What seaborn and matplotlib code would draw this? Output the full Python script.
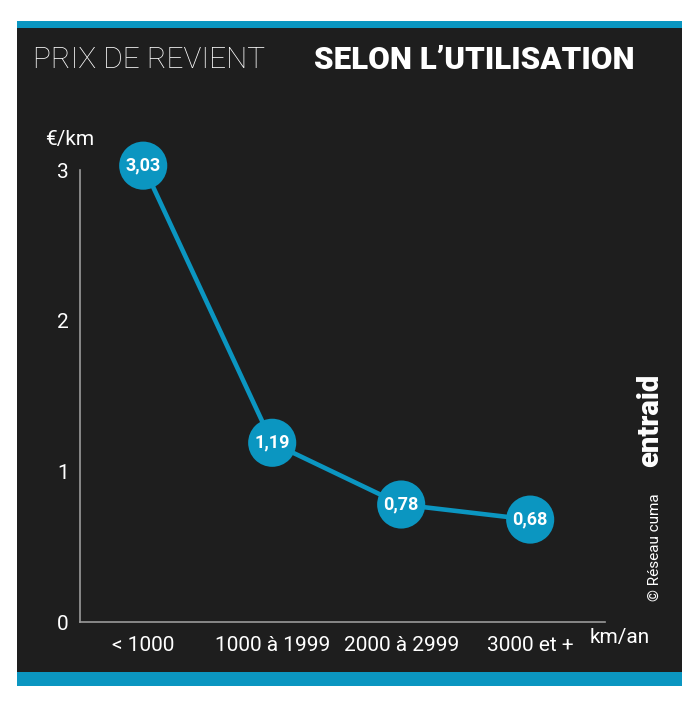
import matplotlib
matplotlib.use("Agg")
import matplotlib.pyplot as plt
from matplotlib.patches import Rectangle
import seaborn as sns
import pandas as pd
from matplotlib import font_manager

categories = ["< 1000", "1000 à 1999", "2000 à 2999", "3000 et +"]
values = [3.03, 1.19, 0.78, 0.68]
value_labels = ["3,03", "1,19", "0,78", "0,68"]
y_ticks = [0, 1, 2, 3]

names = {f.name for f in font_manager.fontManager.ttflist}
narrow = "Liberation Sans Narrow" if "Liberation Sans Narrow" in names else "Roboto"

sns.set_theme(style="white")
plt.rcParams['font.family'] = [narrow, 'DejaVu Sans']

BLUE = "#0b96c1"
DARK = "#1e1e1e"

fig = plt.figure(figsize=(7, 7.1), dpi=100)
fig.patch.set_facecolor("white")
# dark panel and blue bands
fig.add_artist(Rectangle((17/700, 1-673/710), 665/700, 646/710, transform=fig.transFigure, facecolor=DARK, edgecolor="none", zorder=0))
fig.add_artist(Rectangle((17/700, 1-28/710), 665/700, 7/710, transform=fig.transFigure, facecolor=BLUE, edgecolor="none", zorder=0))
fig.add_artist(Rectangle((17/700, 1-686/710), 665/700, 14/710, transform=fig.transFigure, facecolor=BLUE, edgecolor="none", zorder=0))

ax = fig.add_axes([80/700, 1-622/710, 525/700, 497/710])
ax.set_facecolor("none")
df = pd.DataFrame({"cat": categories, "val": values, "pos": range(len(categories))})
sns.lineplot(data=df, x="pos", y="val", ax=ax, color=BLUE, linewidth=3.3, zorder=2)
sns.scatterplot(data=df, x="pos", y="val", ax=ax, color=BLUE, s=1200, edgecolor="none", zorder=3)
for i, (v, lab) in enumerate(zip(values, value_labels)):
    ax.text(i, v, lab, ha="center", va="center", color="white", fontsize=13, fontweight="bold", zorder=4)

ax.set_xlim(-0.49, 3.58)
ax.set_ylim(0, 3.3)
ax.set_xticks(range(len(categories)))
ax.set_xticklabels(categories)
ax.set_yticks(y_ticks)
ax.set_yticklabels([str(t) for t in y_ticks])
ax.tick_params(axis="both", colors="white", labelsize=15, length=0)
ax.tick_params(axis="x", pad=10)
ax.tick_params(axis="y", pad=8)
ax.set_xlabel("")
ax.set_ylabel("")
for s in ["top", "right"]:
    ax.spines[s].set_visible(False)
for s in ["left", "bottom"]:
    ax.spines[s].set_color("#9a9a9a")
    ax.spines[s].set_linewidth(1.2)
ax.spines["left"].set_bounds(0, 3)
ax.grid(False)

fig.text(70/700, 1-140/710, "€/km", color="white", fontsize=15, ha="center", va="center")
fig.text(620/700, 1-638/710, "km/an", color="white", fontsize=15, ha="center", va="center")
fig.text(33/700, 1-60/710, "PRIX DE REVIENT", color="white", fontsize=21.5, ha="left", va="center", fontweight="light")
fig.text(314/700, 1-60/710, "SELON L\u2019UTILISATION", color="white", fontsize=22.5, ha="left", va="center", fontweight="black", family=["Roboto", "DejaVu Sans"])
fig.text(650/700, 1-420/710, "entraid", color="white", fontsize=21, rotation=90, ha="center", va="center", fontweight="black", family=["Roboto", "DejaVu Sans"])
fig.text(655/700, 1-547/710, "© Réseau cuma", color="white", fontsize=11, rotation=90, ha="center", va="center", family=["Roboto", "DejaVu Sans"])

fig.savefig("out.png", dpi=100, facecolor="white")
